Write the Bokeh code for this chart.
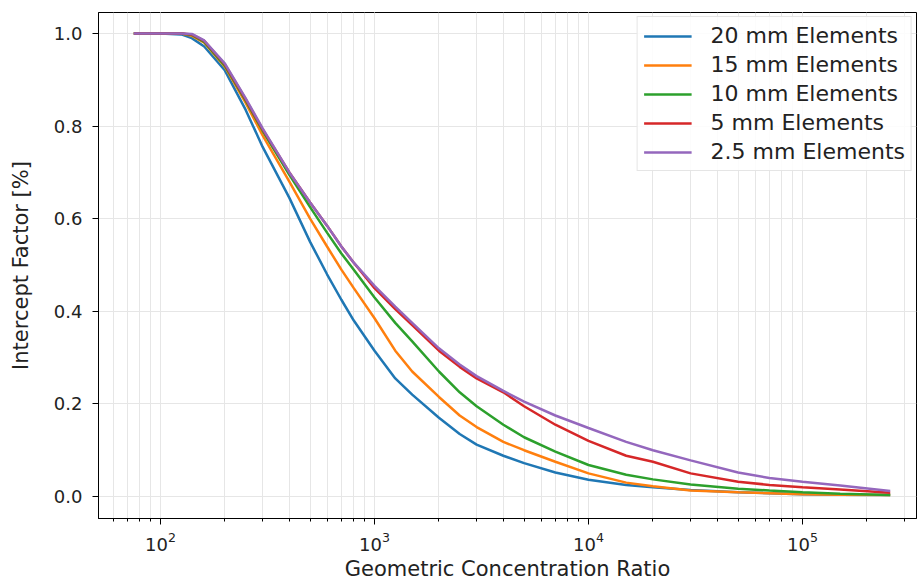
from bokeh.plotting import figure
from bokeh.models import Range1d, SingleIntervalTicker, NumeralTickFormatter, LogTicker
from bokeh.embed import file_html
from bokeh.resources import INLINE

# Geometric concentration ratio (shared x values)
ratio = [75, 100, 125, 140, 160, 200, 250, 300, 400, 500, 600, 700, 800, 1000, 1250,
         1500, 2000, 2500, 3000, 4000, 5000, 7000, 10000, 15000, 20000, 30000, 50000,
         70000, 100000, 150000, 257000]

# Intercept factor per element size
elem_20mm = [1.0, 1.0, 0.998, 0.99, 0.972, 0.92, 0.835, 0.755, 0.645, 0.55, 0.48, 0.425,
             0.38, 0.315, 0.255, 0.22, 0.17, 0.135, 0.112, 0.088, 0.072, 0.052, 0.036,
             0.025, 0.02, 0.014, 0.009, 0.007, 0.005, 0.004, 0.003]
elem_15mm = [1.0, 1.0, 1.0, 0.995, 0.98, 0.928, 0.85, 0.78, 0.68, 0.60, 0.54, 0.49,
             0.45, 0.385, 0.315, 0.27, 0.215, 0.175, 0.15, 0.118, 0.10, 0.075, 0.05,
             0.03, 0.022, 0.013, 0.009, 0.007, 0.005, 0.004, 0.003]
elem_10mm = [1.0, 1.0, 1.0, 0.997, 0.982, 0.93, 0.855, 0.79, 0.695, 0.625, 0.57, 0.525,
             0.49, 0.43, 0.375, 0.335, 0.27, 0.225, 0.195, 0.155, 0.128, 0.097, 0.068,
             0.047, 0.037, 0.026, 0.017, 0.013, 0.009, 0.006, 0.003]
elem_5mm = [1.0, 1.0, 1.0, 0.998, 0.984, 0.933, 0.858, 0.793, 0.70, 0.635, 0.585, 0.54,
            0.505, 0.45, 0.405, 0.37, 0.315, 0.28, 0.255, 0.225, 0.195, 0.155, 0.12,
            0.088, 0.075, 0.05, 0.032, 0.025, 0.02, 0.015, 0.008]
elem_2_5mm = [1.0, 1.0, 1.0, 0.999, 0.985, 0.935, 0.86, 0.795, 0.70, 0.635, 0.585, 0.54,
              0.505, 0.455, 0.41, 0.375, 0.32, 0.285, 0.26, 0.228, 0.205, 0.175, 0.148,
              0.118, 0.10, 0.078, 0.052, 0.04, 0.032, 0.024, 0.012]

labels = ["20 mm Elements", "15 mm Elements", "10 mm Elements", "5 mm Elements", "2.5 mm Elements"]
colors = ["#1f77b4", "#ff7f0e", "#2ca02c", "#d62728", "#9467bd"]
series = [elem_20mm, elem_15mm, elem_10mm, elem_5mm, elem_2_5mm]

FONT = "DejaVu Sans"

p = figure(width=917, height=583, x_axis_type="log",
           x_range=Range1d(51.3, 341000), y_range=Range1d(-0.0475, 1.0454),
           output_backend="svg", toolbar_location=None,
           min_border_left=98, min_border_right=1, min_border_top=12, min_border_bottom=65)

for ys, lab, col in zip(series, labels, colors):
    p.line(ratio, ys, line_color=col, line_width=2.5, legend_label=lab)

# outline / axes
p.outline_line_color = "black"
p.outline_line_width = 1
for ax in (p.xaxis[0], p.yaxis[0]):
    ax.axis_line_color = "black"
    ax.major_tick_line_color = "black"
    ax.minor_tick_line_color = "black"
    ax.major_tick_out = 6
    ax.major_tick_in = 0
    ax.minor_tick_out = 3
    ax.minor_tick_in = 0
    ax.major_label_text_font = FONT
    ax.major_label_text_font_size = "18px"
    ax.major_label_text_color = "#222222"
    ax.axis_label_text_font = FONT
    ax.axis_label_text_font_size = "21px"
    ax.axis_label_text_font_style = "normal"
    ax.axis_label_text_color = "#222222"

p.xaxis.ticker = LogTicker(mantissas=[1], num_minor_ticks=10)
p.yaxis.ticker = SingleIntervalTicker(interval=0.2, num_minor_ticks=0)
p.yaxis.formatter = NumeralTickFormatter(format="0.0")
p.yaxis.minor_tick_line_color = None
p.xaxis.axis_label = "Geometric Concentration Ratio"
p.yaxis.axis_label = "Intercept Factor [%]"
p.xaxis.axis_label_standoff = 3
p.yaxis.axis_label_standoff = 18
p.xaxis.major_label_standoff = 7
p.yaxis.major_label_standoff = 10

# grid
p.xgrid.grid_line_color = "#e6e6e6"
p.xgrid.minor_grid_line_color = "#e6e6e6"
p.ygrid.grid_line_color = "#e6e6e6"

# legend
lg = p.legend[0]
lg.location = "top_right"
lg.margin = 4
lg.padding = 6
lg.spacing = 4
lg.glyph_width = 48
lg.glyph_height = 24
lg.label_standoff = 19
lg.label_height = 24
lg.label_text_font = FONT
lg.label_text_font_size = "22px"
lg.label_text_color = "#222222"
lg.border_line_color = "#cccccc"
lg.border_line_width = 1
lg.background_fill_alpha = 0.85

open("out.html", "w").write(file_html(p, INLINE))
